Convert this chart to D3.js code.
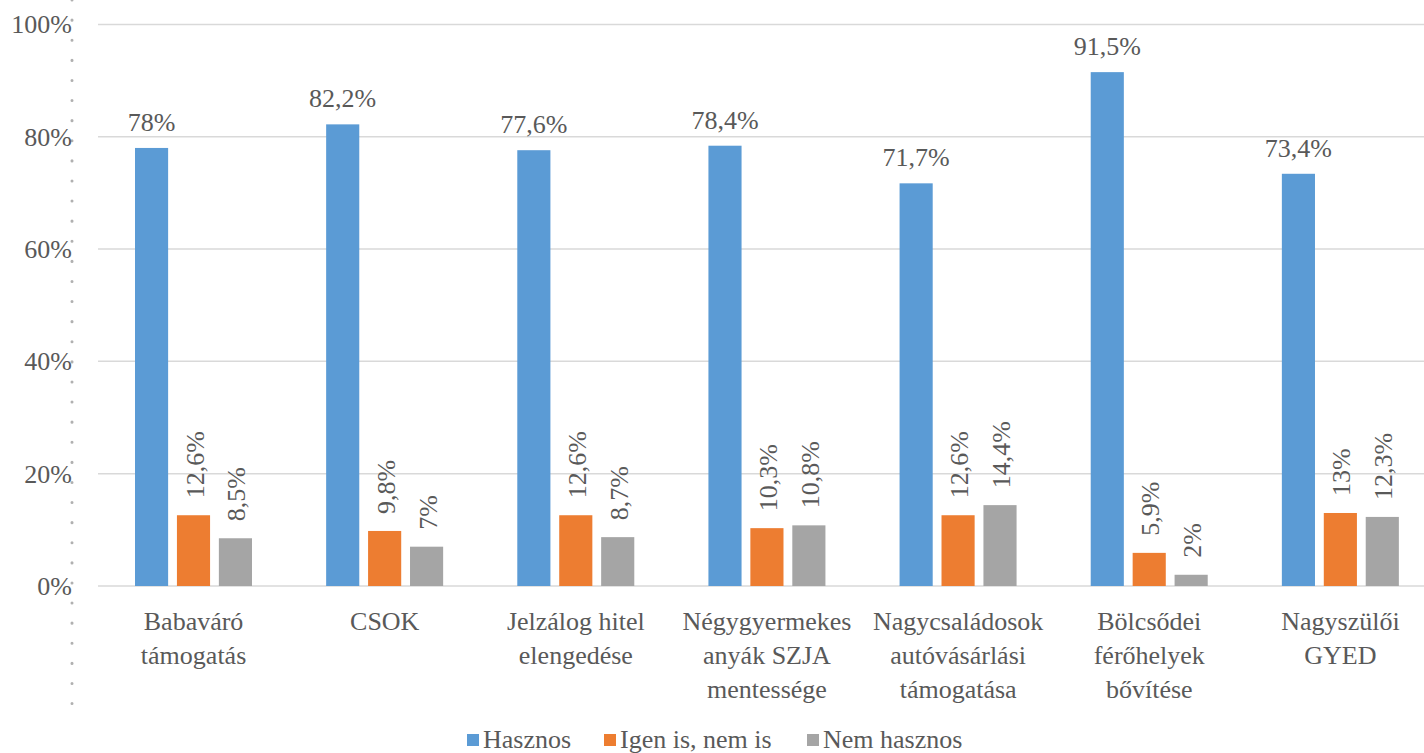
<!DOCTYPE html>
<html><head><meta charset="utf-8">
<script src="https://cdn.jsdelivr.net/npm/d3@7"></script>
<style>body{margin:0;background:#fff}svg{display:block}#c text,#c tspan{font-family:"Liberation Serif",Tinos,"Times New Roman",serif !important}</style>
</head><body>
<svg id="c" width="1424" height="753"></svg>
<script>
const categories = [["Babaváró","támogatás"],["CSOK"],["Jelzálog hitel","elengedése"],["Négygyermekes","anyák SZJA","mentessége"],["Nagycsaládosok","autóvásárlási","támogatása"],["Bölcsődei","férőhelyek","bővítése"],["Nagyszülői","GYED"]];
const seriesNames = ["Hasznos","Igen is, nem is","Nem hasznos"];
const hasznos = [78,82.2,77.6,78.4,71.7,91.5,73.4];
const igenNem = [12.6,9.8,12.6,10.3,12.6,5.9,13];
const nemHasznos = [8.5,7,8.7,10.8,14.4,2,12.3];
const colors = ["#5b9bd5","#ed7d31","#a5a5a5"];
const yTicks = [0,20,40,60,80,100];
const TXT = "#595959";

const svg = d3.select("#c");
const x0 = d3.scaleBand().domain(d3.range(categories.length)).range([98,1436]).paddingInner(0).paddingOuter(0);
const y = d3.scaleLinear().domain([0,100]).range([586,24.4]);
const x1 = d3.scaleBand().domain([0,1,2]).range([37,154]).paddingInner(0.21).paddingOuter(0);
const series = [hasznos, igenNem, nemHasznos];
const fmt = v => String(v).replace(".", ",") + "%";
const txt = sel => sel.style("font-family","\"Liberation Serif\"","important").style("fill",TXT).style("font-size","26px");

// gridlines
svg.append("g").selectAll("line").data(yTicks).join("line")
  .attr("x1",98).attr("x2",1424).attr("y1",d=>y(d)).attr("y2",d=>y(d))
  .attr("stroke","#d9d9d9").attr("stroke-width",1.5);

// dotted vertical line
svg.append("line").attr("x1",72).attr("x2",72).attr("y1",0).attr("y2",722)
  .attr("stroke","#b0b0b0").attr("stroke-width",3).attr("stroke-linecap","round")
  .attr("stroke-dasharray","0.1,20");

// y tick labels
svg.append("g").selectAll("text").data(yTicks).join("text")
  .attr("x",72).attr("y",d=>y(d)+9).attr("text-anchor","end")
  .call(txt).text(d=>d+"%");

// bars
const groups = svg.append("g").selectAll("g").data(categories).join("g")
  .attr("transform",(d,i)=>`translate(${x0(i)},0)`);
groups.each(function(c,i){
  const g = d3.select(this);
  series.forEach((s,k)=>{
    g.append("rect").attr("x",x1(k)).attr("width",x1.bandwidth())
      .attr("y",y(s[i])).attr("height",y(0)-y(s[i])).attr("fill",colors[k]);
    if(k===0){
      g.append("text").attr("x",x1(k)+x1.bandwidth()/2).attr("y",y(s[i])-17)
        .attr("text-anchor","middle").call(txt).text(fmt(s[i]));
    } else {
      const cx = x1(k)+x1.bandwidth()/2, cy = y(s[i])-17;
      g.append("text").attr("transform",`translate(${cx+10},${cy}) rotate(-90)`)
        .attr("text-anchor","start").call(txt).text(fmt(s[i]));
    }
  });
  // category labels
  const t = g.append("text").attr("text-anchor","middle").call(txt);
  c.forEach((line,j)=>{
    t.append("tspan").attr("x",x0.bandwidth()/2).attr("y",630+j*34).text(line);
  });
});

// legend
const legendX = [467,604,807];
const lg = svg.append("g");
seriesNames.forEach((n,k)=>{
  lg.append("rect").attr("x",legendX[k]).attr("y",734).attr("width",12).attr("height",12).attr("fill",colors[k]);
  lg.append("text").attr("x",legendX[k]+16).attr("y",748).call(txt).text(n);
});
</script>
</body></html>
